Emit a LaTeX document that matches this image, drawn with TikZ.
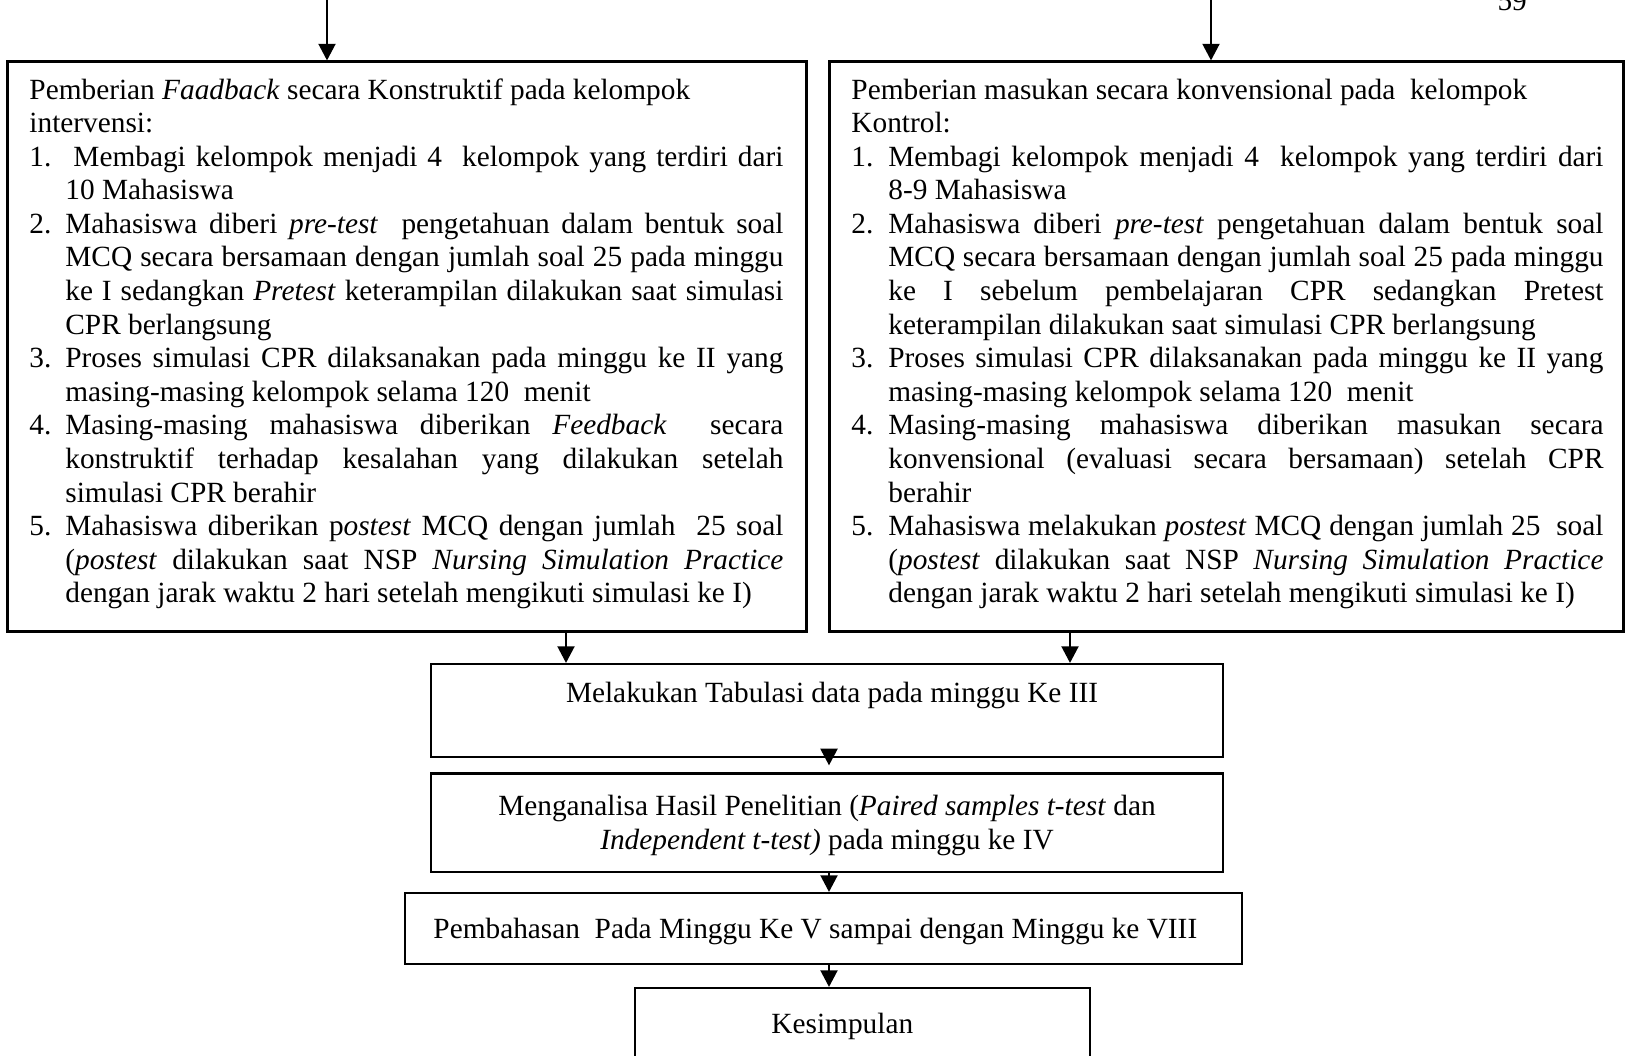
\documentclass[tikz,border=0pt]{standalone}
\usepackage{fontspec}
\setmainfont{Liberation Serif}
\usetikzlibrary{arrows.meta,fit}
\newcommand{\itm}[2]{\par\noindent\hangindent=#1\hangafter=1\makebox[#1][l]{#2}\ignorespaces}
\newcommand{\boxtext}[2]{\parbox[t]{#1}{\fontsize{12}{13.75}\selectfont\setlength{\parindent}{0pt}\setlength{\parskip}{0pt}\tolerance=10000\pretolerance=-1\hyphenpenalty=10000\exhyphenpenalty=10000\relax #2\par}}
\begin{document}
\begin{tikzpicture}[x=0.4093pt,y=-0.4093pt,
  box/.style={draw, line width=0.9pt, inner sep=0pt},
  arr/.style={line width=0.7pt, -{Triangle[width=7pt,length=6.8pt]}},
  txt/.style={inner sep=0pt, anchor=base west},
  ctxt/.style={inner sep=0pt, anchor=base},
  every node/.style={font=\fontsize{12}{13.75}\selectfont}]
\useasboundingbox (0,0) rectangle (1625,1055);
\clip (0,0) rectangle (1625,1055);

% page number
\node[txt] (pg) at (1497,10) {59};

% boxes
\node[box, fit={(7.5,61.5) (806.5,631.5)}] (L) {};
\node[box, fit={(829.5,61.5) (1623.5,631.5)}] (R) {};
\node[box, fit={(431,664) (1223,757)}] (T) {};
\node[box, fit={(431,773.5) (1223,872)}] (A) {};
\node[box, fit={(405,893) (1242,964)}] (P) {};
\node[box, fit={(635,988) (1090,1075)}] (K) {};

% incoming arrows
\coordinate (inL) at (327,0);
\coordinate (inR) at (1211,0);
\draw[arr] (inL) -- (inL |- L.north);
\draw[arr] (inR) -- (inR |- R.north);

% box to box arrows
\coordinate (xL) at (566,0);
\coordinate (xR) at (1070,0);
\coordinate (xM) at (829,0);
\draw[arr] (xL |- L.south) -- (xL |- T.north);
\draw[arr] (xR |- R.south) -- (xR |- T.north);
\draw[arr] ([yshift=2.5pt]xM |- T.south) -- ([yshift=2.9pt]xM |- A.north);
\draw[arr] (xM |- A.south) -- (xM |- P.north);
\draw[arr] (xM |- P.south) -- (xM |- K.north);

% left box text
\node[txt] (Ltext) at (29,99) {\boxtext{308.6pt}{%
\noindent Pemberian \textit{Faadback} secara Konstruktif pada kelompok\newline intervensi:\par
\itm{14.7pt}{1.}\hspace{3.3pt}Membagi kelompok menjadi 4\ \ kelompok yang terdiri dari\linebreak
10 Mahasiswa\par
\itm{14.7pt}{2.}Mahasiswa diberi \textit{pre-test}\ \ pengetahuan dalam bentuk soal\linebreak
MCQ secara bersamaan dengan jumlah soal 25 pada minggu\linebreak
ke I sedangkan \textit{Pretest} keterampilan dilakukan saat simulasi\linebreak
CPR berlangsung\par
\itm{14.7pt}{3.}Proses simulasi CPR dilaksanakan pada minggu ke II yang\linebreak
masing-masing kelompok selama 120\ \ menit\par
\itm{14.7pt}{4.}Masing-masing mahasiswa diberikan \textit{Feedback}\ \ secara\linebreak
konstruktif terhadap kesalahan yang dilakukan setelah\linebreak
simulasi CPR berahir\par
\itm{14.7pt}{5.}Mahasiswa diberikan p\textit{ostest} MCQ dengan jumlah\ \ 25 soal\linebreak
(\textit{postest} dilakukan saat NSP \textit{Nursing Simulation Practice}\linebreak
dengan jarak waktu 2 hari setelah mengikuti simulasi ke I)}};

% right box text
\node[txt] (Rtext) at (851,99) {\boxtext{307.8pt}{%
\noindent Pemberian masukan secara konvensional pada\ \ kelompok\newline Kontrol:\par
\itm{15.1pt}{1.}Membagi kelompok menjadi 4\ \ kelompok yang terdiri dari\linebreak
8-9 Mahasiswa\par
\itm{15.1pt}{2.}Mahasiswa diberi \textit{pre-test} pengetahuan dalam bentuk soal\linebreak
MCQ secara bersamaan dengan jumlah soal 25 pada minggu\linebreak
ke I sebelum pembelajaran CPR sedangkan Pretest\linebreak
keterampilan dilakukan saat simulasi CPR berlangsung\par
\itm{15.1pt}{3.}Proses simulasi CPR dilaksanakan pada minggu ke II yang\linebreak
masing-masing kelompok selama 120\ \ menit\par
\itm{15.1pt}{4.}Masing-masing mahasiswa diberikan masukan secara\linebreak
konvensional (evaluasi secara bersamaan) setelah CPR\linebreak
berahir\par
\itm{15.1pt}{5.}Mahasiswa melakukan \textit{postest} MCQ dengan jumlah 25\ \ soal\linebreak
(\textit{postest} dilakukan saat NSP \textit{Nursing Simulation Practice}\linebreak
dengan jarak waktu 2 hari setelah mengikuti simulasi ke I)}};

% middle texts
\node[ctxt] (Ttext) at (832,702) {Melakukan Tabulasi data pada minggu Ke III};
\node[ctxt] (Atext) at (827,815) {\parbox[t]{330pt}{\fontsize{12}{14.3}\selectfont\centering
Menganalisa Hasil Penelitian (\textit{Paired samples t-test} dan\\
\textit{Independent t-test)} pada minggu ke IV\par}};
\node[txt] (Ptext) at (433,938) {Pembahasan\ \ Pada Minggu Ke V sampai dengan Minggu ke VIII};
\node[txt] (Ktext) at (771,1033) {Kesimpulan};
\end{tikzpicture}
\end{document}
